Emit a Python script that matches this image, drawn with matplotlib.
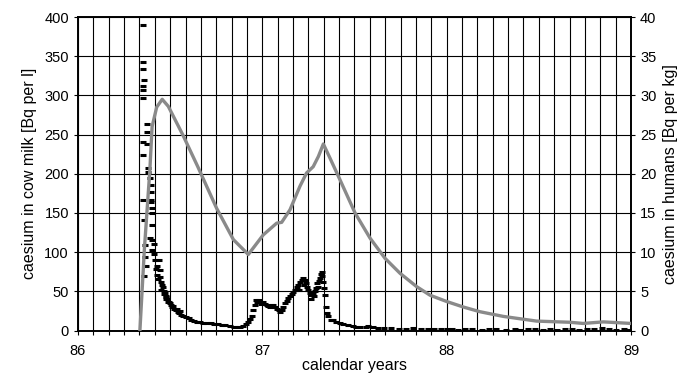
import numpy as np
import matplotlib
matplotlib.use("Agg")
import matplotlib.pyplot as plt
from matplotlib.ticker import MultipleLocator, FixedLocator

plt.rcParams['font.family'] = ['Liberation Sans', 'DejaVu Sans']

# ---------------------------------------------------------------
# data
# ---------------------------------------------------------------
# caesium in cow milk [Bq per l] (black dashes, left axis)
milk_years = [
    86.354, 86.354, 86.354, 86.358, 86.354, 86.354, 86.354, 86.373, 86.373,
    86.352, 86.373, 86.354, 86.380, 86.381, 86.390, 86.396, 86.396, 86.352,
    86.396, 86.398, 86.400, 86.400, 86.356, 86.402, 86.390, 86.400, 86.410,
    86.362, 86.362, 86.403, 86.410, 86.368, 86.360, 86.440, 86.430, 86.445,
    86.430, 86.445, 86.450, 86.455, 86.460, 86.465, 86.470, 86.475, 86.480,
    86.485, 86.490, 86.500, 86.505, 86.510, 86.520, 86.530, 86.540, 86.550,
    86.560, 86.570, 86.585, 86.600, 86.615, 86.630, 86.645, 86.660, 86.680,
    86.700, 86.720, 86.740, 86.760, 86.780, 86.800, 86.825, 86.845, 86.860,
    86.880, 86.897, 86.910, 86.924, 86.935, 86.942, 86.950, 86.958, 86.965,
    86.972, 86.980, 86.987, 86.995, 87.005, 87.015, 87.024, 87.032, 87.040,
    87.050, 87.060, 87.070, 87.078, 87.088, 87.096, 87.105, 87.114, 87.123,
    87.132, 87.141, 87.150, 87.160, 87.168, 87.177, 87.186, 87.195, 87.204,
    87.213, 87.222, 87.230, 87.237, 87.244, 87.250, 87.258, 87.266, 87.276,
    87.286, 87.292, 87.298, 87.305, 87.313, 87.318, 87.322, 87.326, 87.331,
    87.336, 87.340, 87.345, 87.352, 87.358, 87.370, 87.385, 87.400, 87.420,
    87.440, 87.466, 87.490, 87.510, 87.530, 87.560, 87.575, 87.600, 87.630,
    87.660, 87.700, 87.740, 87.780, 87.820, 87.860, 87.900, 87.930, 87.970,
    88.000, 88.030, 88.060, 88.100, 88.140, 88.190, 88.230, 88.270, 88.320,
    88.370, 88.400, 88.440, 88.480, 88.520, 88.560, 88.600, 88.640, 88.680,
    88.720, 88.760, 88.800, 88.840, 88.880, 88.920, 88.960, 88.990,
    # second band of readings in the early decline
    86.420, 86.425, 86.435, 86.450, 86.465, 86.480, 86.495, 86.515, 86.535,
    86.555, 87.200, 87.225, 87.262, 87.280, 87.300,
]
milk_values = [
    390, 343, 334, 319, 312, 307, 297, 263, 253,
    241, 238, 224, 207, 202, 194, 186, 177, 167,
    167, 164, 156, 150, 141, 135, 118, 116, 110,
    109, 94, 103, 97, 82, 70, 90, 82, 77,
    71, 68, 62, 58, 56, 50, 48, 44, 43,
    40, 37, 35, 33, 30, 28, 26, 24, 22,
    20, 18, 17, 16, 14, 12, 11, 11, 10,
    9, 9, 8, 8, 7, 7, 6, 5, 4,
    5, 6, 8, 11, 15, 18, 26, 33, 39,
    36, 39, 37, 34, 37, 34, 33, 31, 30,
    32, 33, 30, 28, 26, 24, 26, 30, 35,
    38, 41, 44, 46, 49, 52, 55, 58, 62,
    65, 67, 64, 60, 56, 52, 48, 45, 47,
    50, 54, 60, 63, 67, 72, 75, 70, 62,
    54, 45, 30, 22, 18, 14, 13, 11, 10,
    8, 7, 6, 5, 5, 4, 6, 4, 3,
    3, 3, 2, 2, 3, 2, 2, 2, 2,
    2, 2, 1, 2, 2, 1, 2, 2, 1,
    2, 1, 2, 2, 1, 2, 1, 2, 2,
    1, 2, 2, 3, 2, 1, 2, 1,
    90, 78, 66, 52, 46, 40, 36, 31, 28,
    25, 52, 58, 40, 44, 56,
]

# caesium in humans [Bq per kg] (grey line, right axis)
human_years = [
    86.336, 86.360, 86.390, 86.402, 86.427, 86.457, 86.490, 86.570, 86.650,
    86.752, 86.843, 86.924, 87.005, 87.078, 87.105, 87.150, 87.204, 87.240,
    87.276, 87.304, 87.331, 87.367, 87.420, 87.503, 87.584, 87.666, 87.747,
    87.837, 87.910, 88.000, 88.090, 88.180, 88.307, 88.488, 88.670, 88.740,
    88.850, 89.000,
]
human_values = [
    0.0, 10.3, 20.5, 26.0, 28.5, 29.5, 28.6, 24.9, 20.9,
    15.6, 11.6, 9.7, 12.2, 13.7, 13.8, 15.4, 18.4, 20.1,
    20.9, 22.2, 23.8, 22.0, 19.3, 15.0, 11.8, 9.2, 7.3,
    5.6, 4.5, 3.7, 3.0, 2.4, 1.8, 1.2, 1.05, 0.9,
    1.1, 0.9,
]

# ---------------------------------------------------------------
# figure
# ---------------------------------------------------------------
fig = plt.figure(figsize=(6.87, 3.74), dpi=100)
ax = fig.add_axes([0.1135, 0.1163, 0.805, 0.8382])
ax2 = ax.twinx()

ax.set_xlim(86, 89)
ax.set_ylim(0, 400)
ax2.set_ylim(0, 40)

# grid: every month vertically, every 50 Bq horizontally
ax.xaxis.set_major_locator(MultipleLocator(1))
ax.xaxis.set_minor_locator(FixedLocator([86 + i / 12 for i in range(37)]))
ax.yaxis.set_major_locator(MultipleLocator(50))
ax2.yaxis.set_major_locator(MultipleLocator(5))
ax.grid(True, which='both', axis='x', color='black', linewidth=0.8)
ax.grid(True, which='major', axis='y', color='black', linewidth=0.8)
ax.set_axisbelow(True)

ax.plot(milk_years, milk_values, linestyle='none', marker='_',
        markersize=4.5, markeredgewidth=2.2, color='black', zorder=3)
ax2.plot(human_years, human_values, color='#8a8a8a', linewidth=2.4,
         solid_joinstyle='round', zorder=4)

ax.set_xticks([86, 87, 88, 89])
ax.set_xticklabels(['86', '87', '88', '89'])
ax.tick_params(axis='x', which='both', direction='out', length=3,
               width=0.8, labelsize=10.5, pad=7)
ax.tick_params(axis='y', direction='out', length=3, width=0.8, labelsize=10.5)
ax2.tick_params(axis='y', direction='out', length=3, width=0.8, labelsize=10.5)

for sp in list(ax.spines.values()) + list(ax2.spines.values()):
    sp.set_linewidth(1.2)
    sp.set_color('black')

ax.set_xlabel('calendar years', fontsize=11.5, labelpad=0)
ax.set_ylabel('caesium in cow milk [Bq per l]', fontsize=11.5, labelpad=5)
ax2.set_ylabel('caesium in humans [Bq per kg]', fontsize=11.5, labelpad=5)

fig.savefig('out.png', dpi=100)
